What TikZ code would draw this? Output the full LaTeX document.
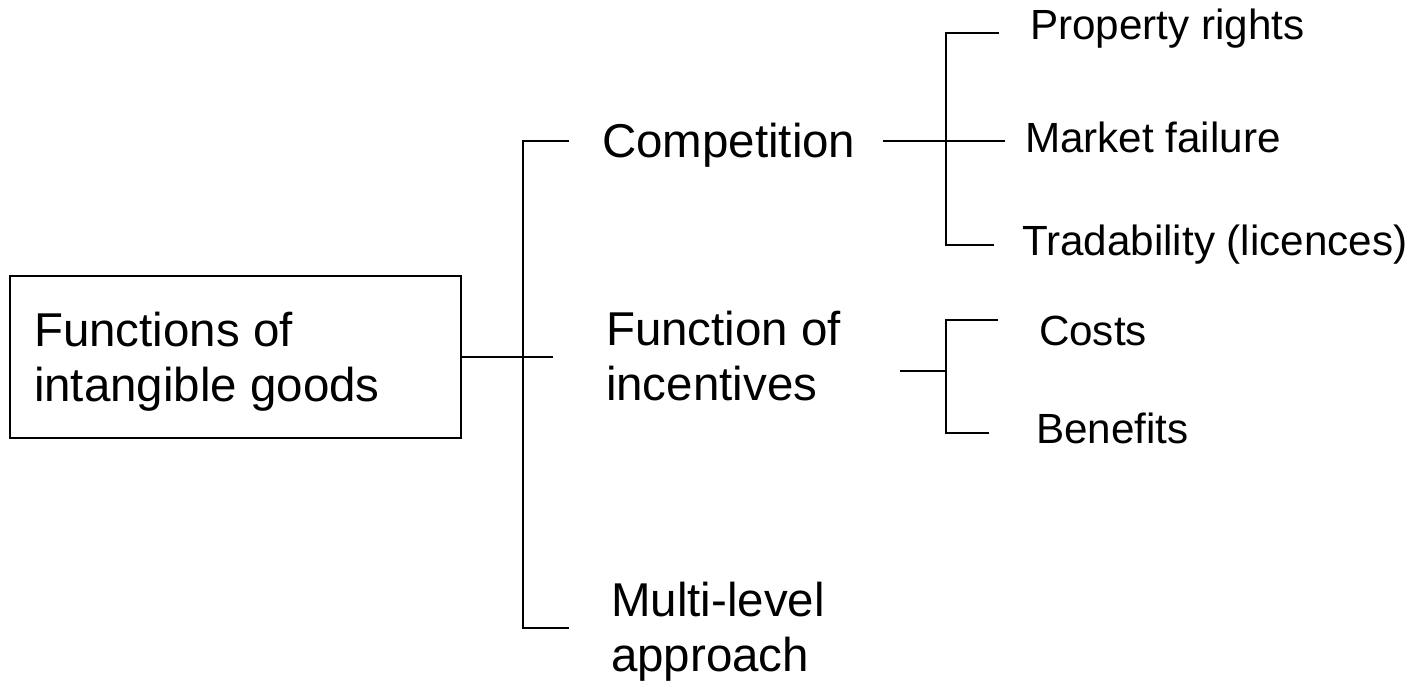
\documentclass[tikz,border=0pt]{standalone}
\usepackage{fontspec}
\setmainfont{Liberation Sans}
\begin{document}
\begin{tikzpicture}[x=0.01cm,y=-0.01cm,
  line width=0.6pt,
  big/.style={font=\fontsize{13.5}{15.6}\selectfont, inner sep=0pt, anchor=base west, align=left},
  small/.style={font=\fontsize{12}{14}\selectfont, inner sep=0pt, anchor=base west},
  rootbox/.style={draw, line width=0.6pt, minimum width=4.51cm, minimum height=1.62cm, inner sep=0pt}]
\useasboundingbox (0,0) rectangle (1415,681);

% root box and its label (base anchor sits on the last line)
\node[rootbox] (root) at (235.5,357) {};
\node[big] (roottext) at (33,401) {Functions of\\intangible goods};

% first level
\node[big] (comp) at (601,157) {Competition};
\node[big] (inc) at (605,400) {Function of\\incentives};
\node[big] (multi) at (610,671) {Multi-level\\approach};

% second level
\node[small] (prop) at (1029,39) {Property rights};
\node[small] (market) at (1024,152) {Market failure};
\node[small] (trade) at (1021,255) {Tradability (licences)};
\node[small] (costs) at (1038,345) {Costs};
\node[small] (benef) at (1035,443) {Benefits};

% bracket from the root to the first level
\coordinate (trunkTop) at (523,141);
\coordinate (trunkBot) at (523,628);
\coordinate (endComp) at (569,141);
\coordinate (endInc) at (553,357);
\coordinate (endMulti) at (569,628);
\draw (root.east) -- (endInc);
\draw (endComp) -- (trunkTop) -- (trunkBot) -- (endMulti);

% bracket from Competition
\coordinate (compStart) at (883,141);
\coordinate (cTop) at (946,33);
\coordinate (cBot) at (946,245);
\coordinate (endProp) at (999,33);
\coordinate (endMarket) at (1005,141);
\coordinate (endTrade) at (994,245);
\draw (compStart) -- (endMarket);
\draw (endProp) -- (cTop) -- (cBot) -- (endTrade);

% bracket from Function of incentives
\coordinate (incStart) at (900,371);
\coordinate (iMid) at (946,371);
\coordinate (iTop) at (946,320);
\coordinate (iBot) at (946,433);
\coordinate (endCosts) at (998,320);
\coordinate (endBenef) at (989,433);
\draw (incStart) -- (iMid);
\draw (endCosts) -- (iTop) -- (iBot) -- (endBenef);
\end{tikzpicture}
\end{document}
